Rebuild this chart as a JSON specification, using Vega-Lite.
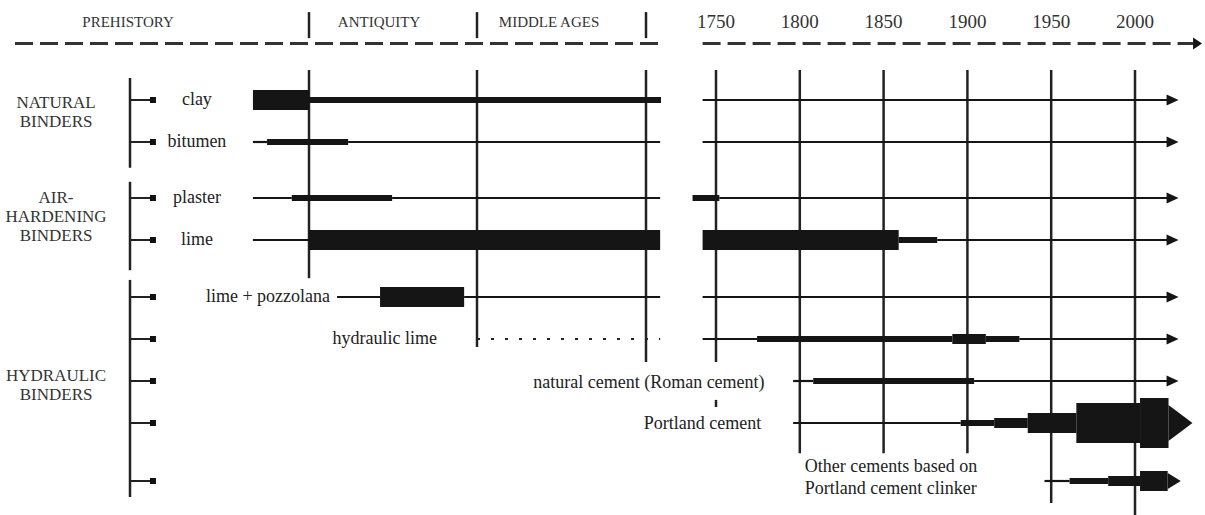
{
  "$schema": "https://vega.github.io/schema/vega-lite/v6.json",
  "width": 1205,
  "height": 515,
  "autosize": {"type": "none"},
  "padding": 0,
  "background": "white",
  "config": {"view": {"stroke": null}},
  "datasets": {
    "grid": [
      {"t": -3000, "lane": 0.47, "lane2": 4.67},
      {"t": 476, "lane": 0.47, "lane2": 6.19},
      {"t": 1492, "lane": 0.47, "lane2": 6.55},
      {"t": 1750, "lane": 0.47, "lane2": 6.55},
      {"t": 1750, "lane": 7.45, "lane2": 7.62},
      {"t": 1800, "lane": 0.47, "lane2": 8.52},
      {"t": 1850, "lane": 0.47, "lane2": 8.52},
      {"t": 1900, "lane": 0.47, "lane2": 8.52},
      {"t": 1950, "lane": 0.47, "lane2": 9.65},
      {"t": 2000, "lane": 0.47, "lane2": 10}
    ],
    "eras": [
      {"t": -3000, "lane": -1.45, "lane2": -0.25},
      {"t": 476, "lane": -1.45, "lane2": -0.25},
      {"t": 1492, "lane": -1.45, "lane2": -0.25}
    ],
    "brackets": [
      {"t": -7055, "lane": 0.61, "lane2": 2.46},
      {"t": -7055, "lane": 2.71, "lane2": 4.53},
      {"t": -7055, "lane": 4.70, "lane2": 9.47}
    ],
    "stubs": [
      {"t": -7055, "t2": -6602, "lane": 1},
      {"t": -7055, "t2": -6602, "lane": 2},
      {"t": -7055, "t2": -6602, "lane": 3},
      {"t": -7055, "t2": -6602, "lane": 4},
      {"t": -7055, "t2": -6602, "lane": 5},
      {"t": -7055, "t2": -6602, "lane": 6},
      {"t": -7055, "t2": -6602, "lane": 7},
      {"t": -7055, "t2": -6602, "lane": 8},
      {"t": -7055, "t2": -6602, "lane": 9}
    ],
    "squares": [
      {"t": -6535, "lane": 1}, {"t": -6535, "lane": 2}, {"t": -6535, "lane": 3},
      {"t": -6535, "lane": 4}, {"t": -6535, "lane": 5}, {"t": -6535, "lane": 6},
      {"t": -6535, "lane": 7}, {"t": -6535, "lane": 8}, {"t": -6535, "lane": 9}
    ],
    "timeline": [
      {"t": -9660, "t2": 1580, "lane": 0},
      {"t": 1742, "t2": 2034.6, "lane": 0}
    ],
    "segments": [
      {"binder": "clay", "lane": 1, "t": -4270, "t2": -3000, "level": 4},
      {"binder": "clay", "lane": 1, "t": -3000, "t2": 1580, "level": 2},
      {"binder": "clay", "lane": 1, "t": 1742, "t2": 2024, "level": 1},
      {"binder": "bitumen", "lane": 2, "t": -4270, "t2": -3950, "level": 1},
      {"binder": "bitumen", "lane": 2, "t": -3950, "t2": -2190, "level": 2},
      {"binder": "bitumen", "lane": 2, "t": -2190, "t2": 1575, "level": 1},
      {"binder": "bitumen", "lane": 2, "t": 1742, "t2": 2024, "level": 1},
      {"binder": "plaster", "lane": 3, "t": -4270, "t2": -3390, "level": 1},
      {"binder": "plaster", "lane": 3, "t": -3390, "t2": -1280, "level": 2},
      {"binder": "plaster", "lane": 3, "t": -1280, "t2": 1575, "level": 1},
      {"binder": "plaster", "lane": 3, "t": 1736, "t2": 1752, "level": 2},
      {"binder": "plaster", "lane": 3, "t": 1752, "t2": 2024, "level": 1},
      {"binder": "lime", "lane": 4, "t": -4270, "t2": -3000, "level": 1},
      {"binder": "lime", "lane": 4, "t": -3000, "t2": 1575, "level": 4},
      {"binder": "lime", "lane": 4, "t": 1742, "t2": 1859, "level": 4},
      {"binder": "lime", "lane": 4, "t": 1859, "t2": 1882, "level": 2},
      {"binder": "lime", "lane": 4, "t": 1882, "t2": 2024, "level": 1},
      {"binder": "lime + pozzolana", "lane": 5, "t": -2420, "t2": -1530, "level": 1},
      {"binder": "lime + pozzolana", "lane": 5, "t": -1530, "t2": 210, "level": 4},
      {"binder": "lime + pozzolana", "lane": 5, "t": 210, "t2": 1575, "level": 1},
      {"binder": "lime + pozzolana", "lane": 5, "t": 1742, "t2": 2024, "level": 1},
      {"binder": "hydraulic lime", "lane": 6, "t": 1742, "t2": 1774.5, "level": 1},
      {"binder": "hydraulic lime", "lane": 6, "t": 1774.5, "t2": 1891, "level": 2},
      {"binder": "hydraulic lime", "lane": 6, "t": 1891, "t2": 1911, "level": 3},
      {"binder": "hydraulic lime", "lane": 6, "t": 1911, "t2": 1931, "level": 2},
      {"binder": "hydraulic lime", "lane": 6, "t": 1931, "t2": 2024, "level": 1},
      {"binder": "natural cement", "lane": 7, "t": 1796, "t2": 1808, "level": 1},
      {"binder": "natural cement", "lane": 7, "t": 1808, "t2": 1904, "level": 2},
      {"binder": "natural cement", "lane": 7, "t": 1904, "t2": 2024, "level": 1},
      {"binder": "Portland cement", "lane": 8, "t": 1796, "t2": 1896, "level": 1},
      {"binder": "Portland cement", "lane": 8, "t": 1896, "t2": 1916, "level": 2},
      {"binder": "Portland cement", "lane": 8, "t": 1916, "t2": 1936, "level": 3},
      {"binder": "Portland cement", "lane": 8, "t": 1936, "t2": 1965, "level": 4},
      {"binder": "Portland cement", "lane": 8, "t": 1965, "t2": 2003, "level": 5},
      {"binder": "Portland cement", "lane": 8, "t": 2003, "t2": 2020, "level": 6},
      {"binder": "other cements", "lane": 9, "t": 1946, "t2": 1961, "level": 1},
      {"binder": "other cements", "lane": 9, "t": 1961, "t2": 1984, "level": 2},
      {"binder": "other cements", "lane": 9, "t": 1984, "t2": 2003, "level": 3},
      {"binder": "other cements", "lane": 9, "t": 2003, "t2": 2019.5, "level": 4}
    ],
    "dotted": [
      {"binder": "hydraulic lime", "lane": 6, "t": 476, "t2": 1575}
    ],
    "arrowsThin": [
      {"lane": 1, "t": 2026}, {"lane": 2, "t": 2026}, {"lane": 3, "t": 2026},
      {"lane": 4, "t": 2026}, {"lane": 5, "t": 2026}, {"lane": 6, "t": 2026},
      {"lane": 7, "t": 2026}
    ],
    "arrowPortland": [{"lane": 8, "t": 2034.3}],
    "arrowOther": [{"lane": 9, "t": 2027.3}],
    "arrowTimeline": [{"lane": 0, "t": 2040}],
    "headers": [
      {"t": -7100, "lane": -1, "label": "PREHISTORY"},
      {"t": -1550, "lane": -1, "label": "ANTIQUITY"},
      {"t": 909, "lane": -1, "label": "MIDDLE AGES"}
    ],
    "years": [
      {"t": 1750, "lane": -1, "label": "1750"},
      {"t": 1800, "lane": -1, "label": "1800"},
      {"t": 1850, "lane": -1, "label": "1850"},
      {"t": 1900, "lane": -1, "label": "1900"},
      {"t": 1950, "lane": -1, "label": "1950"},
      {"t": 2000, "lane": -1, "label": "2000"}
    ],
    "groups": [
      {"t": -8730, "lane": 1.07, "label": "NATURAL\nBINDERS"},
      {"t": -8730, "lane": 3.0, "label": "AIR-\nHARDENING\nBINDERS"},
      {"t": -8730, "lane": 6.88, "label": "HYDRAULIC\nBINDERS"}
    ],
    "rowsCenter": [
      {"t": -5540, "lane": 1, "label": "clay"},
      {"t": -5540, "lane": 2, "label": "bitumen"},
      {"t": -5540, "lane": 3, "label": "plaster"},
      {"t": -5540, "lane": 4, "label": "lime"}
    ],
    "rowsRight": [
      {"t": -2565, "lane": 5, "label": "lime + pozzolana"},
      {"t": -350, "lane": 6, "label": "hydraulic lime"},
      {"t": 1779, "lane": 7.04, "label": "natural cement (Roman cement)"},
      {"t": 1777, "lane": 8.02, "label": "Portland cement"}
    ],
    "rowsLeft": [
      {"t": 1803, "lane": 8.76, "label": "Other cements based on\nPortland cement clinker"}
    ]
  },
  "encoding": {
    "x": {
      "field": "t",
      "type": "quantitative",
      "scale": {
        "domain": [-10000, -3000, 476, 1492, 1580, 1730, 1750, 2000, 2100],
        "range": [0, 309, 477, 646, 661, 682.5, 716, 1135, 1302.6],
        "nice": false,
        "zero": false
      },
      "axis": null
    },
    "y": {
      "field": "lane",
      "type": "quantitative",
      "scale": {
        "domain": [-2, -1, 0, 1, 2, 3, 4, 5, 6, 7, 8, 9, 10],
        "range": [0, 22, 43.5, 100, 142, 198, 240, 297, 339, 381, 423, 481, 515],
        "nice": false,
        "zero": false
      },
      "axis": null
    }
  },
  "layer": [
    {
      "data": {"name": "grid"},
      "mark": {"type": "rule", "color": "#222", "strokeWidth": 2.5},
      "encoding": {"y2": {"field": "lane2"}}
    },
    {
      "data": {"name": "eras"},
      "mark": {"type": "rule", "color": "#222", "strokeWidth": 2.5},
      "encoding": {"y2": {"field": "lane2"}}
    },
    {
      "data": {"name": "brackets"},
      "mark": {"type": "rule", "color": "#222", "strokeWidth": 2.5},
      "encoding": {"y2": {"field": "lane2"}}
    },
    {
      "data": {"name": "stubs"},
      "mark": {"type": "rule", "color": "#222", "strokeWidth": 2},
      "encoding": {"x2": {"field": "t2"}}
    },
    {
      "data": {"name": "squares"},
      "mark": {"type": "point", "shape": "square", "size": 36, "filled": true, "color": "#111", "opacity": 1}
    },
    {
      "data": {"name": "timeline"},
      "mark": {"type": "rule", "color": "#333", "strokeWidth": 3, "strokeDash": [18, 7]},
      "encoding": {"x2": {"field": "t2"}}
    },
    {
      "data": {"name": "dotted"},
      "mark": {"type": "rule", "color": "#222", "strokeWidth": 2, "strokeDash": [3, 11]},
      "encoding": {"x2": {"field": "t2"}}
    },
    {
      "data": {"name": "segments"},
      "mark": {"type": "rule", "color": "#151515"},
      "encoding": {
        "x2": {"field": "t2"},
        "strokeWidth": {
          "field": "level",
          "type": "ordinal",
          "scale": {"type": "ordinal", "domain": [1, 2, 3, 4, 5, 6], "range": [2.2, 6, 10, 20, 40, 50]},
          "legend": null
        }
      }
    },
    {
      "data": {"name": "arrowsThin"},
      "mark": {"type": "point", "shape": "M0,0L-1,-0.45L-1,0.45Z", "size": 576, "filled": true, "color": "#151515", "opacity": 1, "strokeWidth": 0}
    },
    {
      "data": {"name": "arrowPortland"},
      "mark": {"type": "point", "shape": "M0,0L-1,-0.75L-1,0.75Z", "size": 2304, "filled": true, "color": "#151515", "opacity": 1, "strokeWidth": 0}
    },
    {
      "data": {"name": "arrowOther"},
      "mark": {"type": "point", "shape": "M0,0L-1,-0.62L-1,0.62Z", "size": 676, "filled": true, "color": "#151515", "opacity": 1, "strokeWidth": 0}
    },
    {
      "data": {"name": "arrowTimeline"},
      "mark": {"type": "point", "shape": "M0,0L-1,-0.67L-1,0.67Z", "size": 324, "filled": true, "color": "#151515", "opacity": 1, "strokeWidth": 0}
    },
    {
      "data": {"name": "headers"},
      "mark": {"type": "text", "font": "Liberation Serif", "fontSize": 15, "color": "#333", "align": "center", "baseline": "middle"},
      "encoding": {"text": {"field": "label"}}
    },
    {
      "data": {"name": "years"},
      "mark": {"type": "text", "font": "Liberation Serif", "fontSize": 19, "color": "#333", "align": "center", "baseline": "middle"},
      "encoding": {"text": {"field": "label"}}
    },
    {
      "data": {"name": "groups"},
      "mark": {"type": "text", "font": "Liberation Serif", "fontSize": 17, "lineHeight": 19, "lineBreak": "\n", "color": "#333", "align": "center", "baseline": "middle"},
      "encoding": {"text": {"field": "label"}}
    },
    {
      "data": {"name": "rowsCenter"},
      "mark": {"type": "text", "font": "Liberation Serif", "fontSize": 18, "color": "#222", "align": "center", "baseline": "middle"},
      "encoding": {"text": {"field": "label"}}
    },
    {
      "data": {"name": "rowsRight"},
      "mark": {"type": "text", "font": "Liberation Serif", "fontSize": 18, "color": "#222", "align": "right", "baseline": "middle"},
      "encoding": {"text": {"field": "label"}}
    },
    {
      "data": {"name": "rowsLeft"},
      "mark": {"type": "text", "font": "Liberation Serif", "fontSize": 18, "lineHeight": 22, "lineBreak": "\n", "color": "#222", "align": "left", "baseline": "middle"},
      "encoding": {"text": {"field": "label"}}
    }
  ]
}
